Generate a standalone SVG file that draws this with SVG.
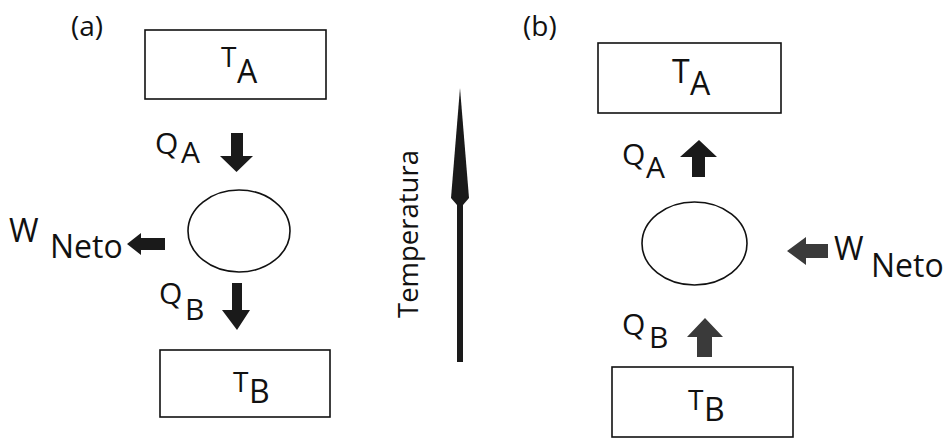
<svg xmlns="http://www.w3.org/2000/svg" width="946" height="440" viewBox="0 0 946 440">
<style>
  .box{fill:none;stroke:#111;stroke-width:1.6}
  .ell{fill:none;stroke:#111;stroke-width:1.6}
  .t{font-family:"Open Sans","Liberation Sans",sans-serif;fill:#111}
  .lbl{font-size:30px}
  .big{font-size:32px}
  .sm{font-size:28px}
  .blk{fill:#1a1a1a}
  .gry{fill:#3a3a3a}
</style>
<rect width="946" height="440" fill="#fff"/>
<text class="t" x="71" y="36" font-size="28">(a)</text>
<text class="t" x="523" y="36" font-size="28">(b)</text>

<g id="a-TA">
  <rect class="box" x="145" y="30" width="181" height="69"/>
  <text class="t sm" x="221" y="67">T</text>
  <text class="t big" x="237" y="83">A</text>
</g>
<g id="a-TB">
  <rect class="box" x="160" y="350" width="170" height="67"/>
  <text class="t sm" x="233" y="392">T</text>
  <text class="t big" x="249" y="403">B</text>
</g>
<g id="a-engine">
  <ellipse class="ell" cx="239" cy="231" rx="51" ry="41"/>
</g>
<g id="a-QA"><text class="t lbl" x="155" y="154">Q</text><text class="t lbl" x="181" y="163">A</text></g>
<g id="a-QB"><text class="t lbl" x="159" y="304">Q</text><text class="t lbl" x="185" y="320">B</text></g>
<g id="a-W"><text class="t big" x="9" y="242">W</text><text class="t big" x="50" y="258">Neto</text></g>

<g id="b-TA">
  <rect class="box" x="598" y="43" width="183" height="70"/>
  <text class="t big" x="672" y="83">T</text>
  <text class="t big" x="690" y="95">A</text>
</g>
<g id="b-TB">
  <rect class="box" x="612" y="367" width="181" height="70"/>
  <text class="t sm" x="688" y="410">T</text>
  <text class="t big" x="704" y="421">B</text>
</g>
<g id="b-engine">
  <ellipse class="ell" cx="694.5" cy="243.5" rx="52.5" ry="41.5"/>
</g>
<g id="b-QA"><text class="t lbl" x="622" y="165">Q</text><text class="t lbl" x="646" y="178">A</text></g>
<g id="b-QB"><text class="t lbl" x="622" y="335">Q</text><text class="t lbl" x="649" y="348">B</text></g>
<g id="b-W"><text class="t big" x="834" y="260">W</text><text class="t big" x="871" y="277">Neto</text></g>

<g id="temperatura">
  <text class="t" font-size="27" text-anchor="middle" textLength="168" lengthAdjust="spacingAndGlyphs" transform="translate(418 234) rotate(-90)">Temperatura</text>
</g>

<g id="connectors">
  <path class="blk" d="M231,133 H243 V156 H253 L236.5,172 L220,156 H231 Z"/>
  <path class="blk" d="M232,283 H242 V310 H250 L237,330 L222,310 H232 Z"/>
  <path class="blk" d="M165,238 V250 H141 V255 L127,244 L141,233 V238 Z"/>
  <path class="blk" d="M692,177 V157 H680 L699,140 L717,157 H705 V177 Z"/>
  <path class="gry" d="M828,244 V258 H806 V265 L787,251 L806,237 V244 Z"/>
  <path class="gry" d="M697,357 V337 H687 L705,318 L723,337 H712 V357 Z"/>
  <rect class="blk" x="457" y="196" width="6" height="166"/>
  <path class="blk" d="M460,88 L469,198 L463,205 L457,205 L451,198 Z"/>
</g>
</svg>
